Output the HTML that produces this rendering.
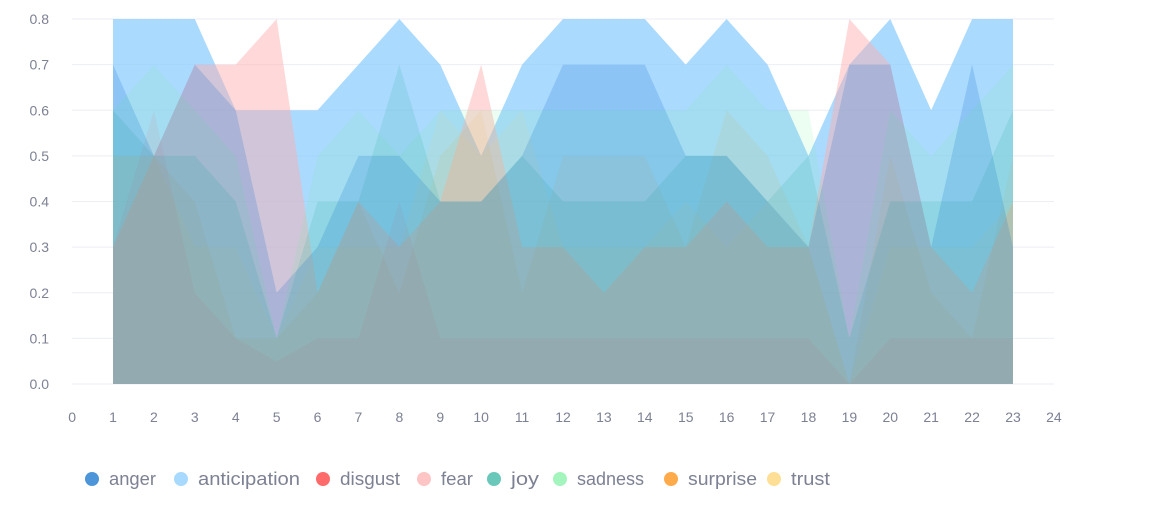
<!DOCTYPE html>
<html><head><meta charset="utf-8"><style>
body{margin:0;background:#fff;font-family:"Liberation Sans",sans-serif}
svg text{font-family:"Liberation Sans",sans-serif;fill:#6b6f80}
</style></head><body>
<svg id="c" width="1158" height="527"></svg>
<script>
const xs=[1,2,3,4,5,6,7,8,9,10,11,12,13,14,15,16,17,18,19,20,21,22,23];
const seriesNames=["anger","anticipation","disgust","fear","joy","sadness","surprise","trust"];
const colors=["#0068c9","#83c9ff","#ff2b2b","#ffabab","#29b09d","#7defa1","#ff8700","#ffd16a"];
const anger=[0.7,0.5,0.7,0.6,0.2,0.3,0.5,0.5,0.4,0.4,0.5,0.7,0.7,0.7,0.5,0.5,0.4,0.3,0.7,0.7,0.3,0.7,0.3];
const anticipation=[0.8,0.8,0.8,0.6,0.6,0.6,0.7,0.8,0.7,0.5,0.7,0.8,0.8,0.8,0.7,0.8,0.7,0.5,0.7,0.8,0.6,0.8,0.8];
const disgust=[0.3,0.6,0.2,0.1,0.05,0.1,0.1,0.4,0.1,0.1,0.1,0.1,0.1,0.1,0.1,0.1,0.1,0.1,0,0.1,0.1,0.1,0.1];
const fear=[0.3,0.5,0.7,0.7,0.8,0.2,0.4,0.3,0.4,0.7,0.3,0.3,0.2,0.3,0.3,0.4,0.3,0.3,0.8,0.7,0.3,0.2,0.4];
const joy=[0.6,0.5,0.5,0.4,0.1,0.4,0.4,0.7,0.4,0.4,0.5,0.4,0.4,0.4,0.5,0.5,0.4,0.5,0.1,0.4,0.4,0.4,0.6];
const sadness=[0.6,0.7,0.6,0.5,0.1,0.5,0.6,0.5,0.6,0.6,0.6,0.6,0.6,0.6,0.6,0.7,0.6,0.6,0.1,0.6,0.5,0.6,0.7];
const surprise=[0.5,0.5,0.4,0.1,0.1,0.2,0.4,0.2,0.5,0.6,0.2,0.5,0.5,0.5,0.3,0.6,0.5,0.3,0,0.5,0.2,0.1,0.5];
const trust=[0.5,0.5,0.3,0.3,0.1,0.3,0.3,0.3,0.6,0.5,0.6,0.3,0.3,0.3,0.4,0.3,0.4,0.3,0,0.3,0.3,0.3,0.4];
const yTicks=[0,0.1,0.2,0.3,0.4,0.5,0.6,0.7,0.8];
const xTicks=[0,1,2,3,4,5,6,7,8,9,10,11,12,13,14,15,16,17,18,19,20,21,22,23,24];
const data=[anger,anticipation,disgust,fear,joy,sadness,surprise,trust];
const NS="http://www.w3.org/2000/svg",svg=document.getElementById('c');
const X=v=>113+(v-1)*(900/22), Y=v=>384-v*(365/0.8);
function mk(t,a,p){const e=document.createElementNS(NS,t);for(const k in a)e.setAttribute(k,a[k]);(p||svg).appendChild(e);return e;}
yTicks.forEach(t=>{
 const g=mk('line',{x1:72,x2:1054,y1:Y(t),y2:Y(t),stroke:'#eceef4','stroke-width':1});
 
 
 const l=mk('text',{x:49,y:Y(t)+5,'text-anchor':'end','font-size':14,style:'fill:#7d8194'});l.textContent=t.toFixed(1);
 
 
});
xTicks.forEach(t=>{
 const l=mk('text',{x:X(t),y:422,'text-anchor':'middle','font-size':14,style:'fill:#7d8194'});l.textContent=t;
 
 
});
const order=[1,3,7,6,5,4,2,0];
const op=[0.18,0.68,0.06,0.45,0.16,0.15,0.08,0.1];
order.forEach(i=>{
 const s=data[i];
 let d='M'+X(xs[0])+','+Y(0);
 s.forEach((v,j)=>d+='L'+X(xs[j])+','+Y(v));
 d+='L'+X(xs[xs.length-1])+','+Y(0)+'Z';
 const p=mk('path',{d:d,fill:colors[i],'fill-opacity':op[i]});
 
 
});
const legX=[109,198,340,441,511,577,688,791];
const legW=[47,102,60,32,28,67,69,39];
seriesNames.forEach((n,i)=>{
 const c=mk('circle',{cx:legX[i]-17,cy:479,r:7,fill:colors[i],'fill-opacity':0.7});
 
 
 const t=mk('text',{x:legX[i],y:485,'font-size':18,textLength:legW[i],lengthAdjust:'spacingAndGlyphs',style:'fill:#7d8194'});t.textContent=n;
 
 
});
</script>
</body></html>
